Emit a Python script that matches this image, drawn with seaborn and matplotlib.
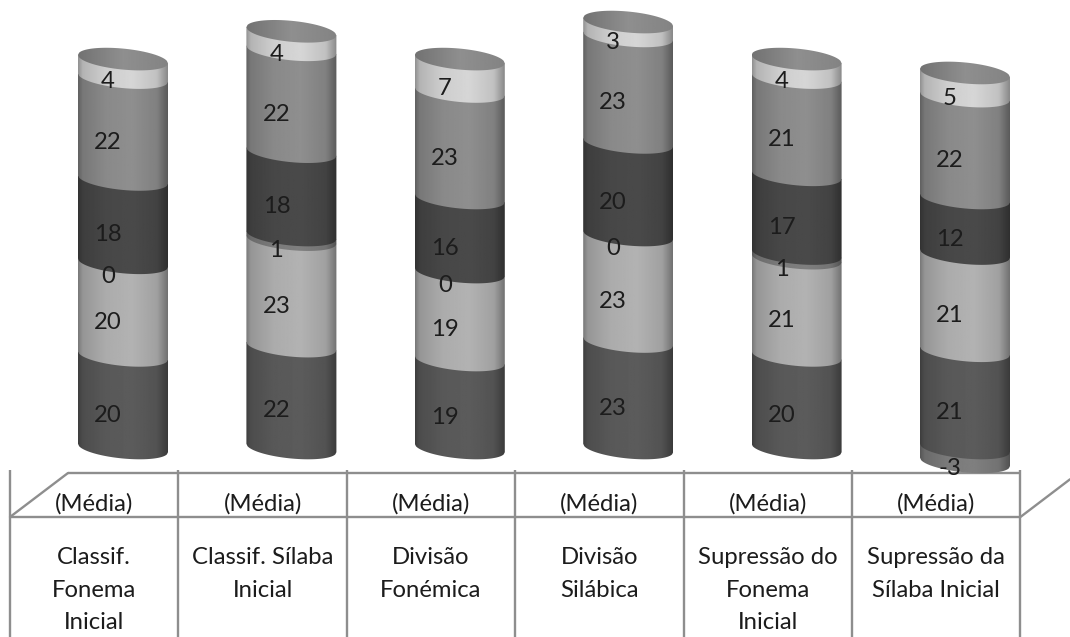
import numpy as np
import pandas as pd
import matplotlib
matplotlib.use("Agg")
import matplotlib.pyplot as plt
from matplotlib.path import Path
from matplotlib.patches import PathPatch
import seaborn as sns

# Reading-skill tasks and their six stacked mean scores (bottom to top)
categories = ["Classif.\nFonema\nInicial", "Classif. Sílaba\nInicial", "Divisão\nFonémica",
              "Divisão\nSilábica", "Supressão do\nFonema\nInicial", "Supressão da\nSílaba Inicial"]
series_a = [20, 22, 19, 23, 20, 21]
series_b = [20, 23, 19, 23, 21, 21]
series_c = [0, 1, 0, 0, 1, -3]
series_d = [18, 18, 16, 20, 17, 12]
series_e = [22, 22, 23, 23, 21, 22]
series_f = [4, 4, 7, 3, 4, 5]
row_label = "(Média)"

layers = [series_a, series_b, series_c, series_d, series_e, series_f]
greys = [0.36, 0.70, 0.50, 0.29, 0.56, 0.84]

sns.set_theme(style="white")
plt.rcParams["font.family"] = ["Lato", "DejaVu Sans"]

fig = plt.figure(figsize=(10.70, 6.37), dpi=100)
ax = fig.add_axes([0, 0, 1, 1])

# Pixel-per-unit scales of the canvas
PX_X, PX_Y = 168.4, 4.63
XLIM = (-123 / PX_X, (1070 - 123) / PX_X)
YLIM = (-(637 - 448) / PX_Y, 448 / PX_Y)
BAR_W = 90 / PX_X
SEMI_B = 10.5 / PX_Y      # vertical half-axis of the end ellipses
TILT = 4.2 / PX_Y         # rim rises towards the right by this much each side
TEXT_SIZE = 17.2
TEXT_COLOR = "#1c1c1c"
shade_pos = [0.0, 0.05, 0.3, 0.6, 0.88, 1.0]
shade_val = [0.68, 0.84, 0.96, 1.0, 0.90, 0.64]
shade = np.interp(np.linspace(0, 1, 128), shade_pos, shade_val)


def rim(xc, half, yc, upper=False):
    """Front (or rear) half of a tilted end ellipse, left to right."""
    t = np.linspace(-1, 1, 80)
    sign = 1 if upper else -1
    return xc + half * t, yc - TILT * t + sign * SEMI_B * np.sqrt(1 - t ** 2)


def shaded(verts, x0, x1, y0, y1, grey, z, curve=shade):
    outline = np.vstack([verts, verts[:1]])
    clip = PathPatch(Path(outline, closed=True), fc="none", ec="none", transform=ax.transData)
    ax.add_patch(clip)
    rgb = np.clip(curve * grey, 0, 1)[None, :]
    im = ax.imshow(rgb, cmap="gray", vmin=0, vmax=1, extent=(x0, x1, y0, y1),
                   aspect="auto", zorder=z, interpolation="bilinear")
    im.set_clip_path(clip)


# Stack the layers with seaborn, negatives hanging below zero
tops = np.zeros(len(categories))
segments = []
for values, grey in zip(layers, greys):
    values = np.array(values, float)
    base = np.where(values >= 0, tops, 0.0)
    frame = pd.DataFrame({"task": categories, "value": values})
    n_before = len(ax.patches)
    sns.barplot(data=frame, x="task", y="value", bottom=base, width=BAR_W,
                color=str(grey), ax=ax, errorbar=None, saturation=1)
    for i, bar in enumerate(ax.patches[n_before:]):
        y_low = min(bar.get_y(), bar.get_y() + bar.get_height())
        y_high = max(bar.get_y(), bar.get_y() + bar.get_height())
        segments.append((i, bar.get_x(), bar.get_width(), y_low, y_high, grey, values[i]))
        bar.set_visible(False)
    tops = tops + np.where(values >= 0, values, 0.0)

# Paint from the lowest ring upward so each rim overlaps the one beneath
segments.sort(key=lambda s: s[3])
for order, (i, x, w, y_low, y_high, grey, val) in enumerate(segments):
    xc, half = x + w / 2, w / 2
    if y_high > y_low:
        xb, yb = rim(xc, half, y_low)
        corners = [[xc + half, y_high - TILT], [xc - half, y_high + TILT]]
        verts = np.vstack([np.column_stack([xb, yb]), corners])
        shaded(verts, x, x + w, y_low - 2 * SEMI_B, y_high + 2 * SEMI_B, grey, 2 + order * 0.01)
    ax.text(xc - 15 / PX_X, (y_low + y_high) / 2 - 13.5 / PX_Y, f"{val:g}", ha="center", va="center",
            fontsize=TEXT_SIZE, color=TEXT_COLOR, zorder=5)

# Flat caps on each finished stack
cap_shade = np.interp(np.linspace(0, 1, 128), [0, 0.5, 1], [0.80, 1.0, 0.92])
for i, top in enumerate(tops):
    xc, half = float(i), BAR_W / 2
    xf, yf = rim(xc, half, top)
    xr, yr = rim(xc, half, top, upper=True)
    verts = np.vstack([np.column_stack([xf, yf]), np.column_stack([xr[::-1], yr[::-1]])])
    shaded(verts, xc - half, xc + half, top - 2 * SEMI_B, top + 2 * SEMI_B, 0.56, 3.5, cap_shade)

# Table beneath the plot floor
LINE = "#8e8e8e"
n = len(categories)
cell_left = (10 - 123) / PX_X
edges = cell_left + np.arange(n + 1)
y_back = -(473 - 448) / PX_Y
y_front = -(517 - 448) / PX_Y
y_start = -(470 - 448) / PX_Y
y_floor = YLIM[0]
depth = 58 / PX_X
style = dict(color=LINE, lw=1.7, zorder=1)
ax.vlines(edges, y_floor, y_start, **style)
ax.hlines(y_front, edges[0], edges[-1], **style)
ax.hlines(y_back, edges[0] + depth, edges[-1], **style)
ax.plot([edges[0], edges[0] + depth], [y_front, y_back], **style)
ax.plot([edges[-1], XLIM[1]], [y_front, y_front + (XLIM[1] - edges[-1]) * PX_X * 0.76 / PX_Y], **style)

for i, label in enumerate(categories):
    xc = (edges[i] + edges[i + 1]) / 2
    ax.text(xc, -(504 - 448) / PX_Y, row_label, ha="center", va="center", fontsize=TEXT_SIZE, color=TEXT_COLOR, zorder=4)
    ax.text(xc, -(547 - 448) / PX_Y, label, ha="center", va="top", fontsize=TEXT_SIZE, color=TEXT_COLOR,
            linespacing=1.68, zorder=4)

ax.set_xlim(*XLIM)
ax.set_ylim(*YLIM)
ax.axis("off")
fig.savefig("out.png", dpi=100, facecolor="white")
